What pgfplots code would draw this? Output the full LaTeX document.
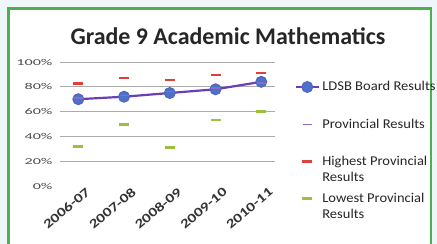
\documentclass[border=0pt]{standalone}
\usepackage{pgfplots}
\pgfplotsset{compat=1.18}
\usepackage{fontspec}
\setmainfont{Carlito}
\definecolor{bgblue}{HTML}{EEF6FA}
\definecolor{frame}{HTML}{4CB050}
\definecolor{boardline}{HTML}{6A3FB5}
\definecolor{boardmark}{HTML}{4A72C8}
\definecolor{provc}{HTML}{8A6BC0}
\definecolor{highc}{HTML}{E0403A}
\definecolor{lowc}{HTML}{9DC03A}
\newcommand{\yl}[1]{\scalebox{1.8}[1]{#1}}
\newcommand{\xl}[1]{\scalebox{1.3}[1]{#1}}
\newcommand{\lgx}[1]{\scalebox{1.08}[1]{#1}}
\newcommand{\twol}[2]{\rlap{\smash{\raisebox{-16bp}{\lgx{#2}}}}\lgx{#1}}
\begin{document}
\begin{tikzpicture}
\useasboundingbox (0bp,0bp) rectangle (437bp,244bp);
\fill[bgblue] (0bp,0bp) rectangle (437bp,244bp);
\fill[white] (8.5bp,0bp) rectangle (431bp,235.5bp);
\draw[frame,line width=2.5bp] (8.5bp,0bp) -- (8.5bp,235.5bp) -- (431bp,235.5bp) -- (431bp,0bp);
\node[font=\bfseries\fontsize{24}{28}\selectfont, text=black!85] at (228bp,208bp) {Grade 9 Academic Mathematics};
\begin{axis}[
  at={(60bp,58bp)}, anchor=south west,
  scale only axis, width=215bp, height=124bp,
  xmin=-0.4, xmax=4.3, ymin=0, ymax=100,
  axis line style={draw=none},
  ytick={20,40,60,80,100},
  yticklabels={\yl{20\%},\yl{40\%},\yl{60\%},\yl{80\%},\yl{100\%}},
  extra y ticks={0}, extra y tick labels={\yl{0\%}},
  extra y tick style={grid=none},
  xtick={0,1,2,3,4},
  xticklabels={\xl{2006-07},\xl{2007-08},\xl{2008-09},\xl{2009-10},\xl{2010-11}},
  x tick label style={rotate=40, anchor=north east, font=\bfseries\fontsize{13}{15}\selectfont, text=black!80, inner sep=1pt, xshift=6bp, yshift=-4bp},
  y tick label style={font=\fontsize{9}{10}\selectfont, text=black!70, xshift=-4bp},
  major tick length=0pt,
  ymajorgrids, grid style={gray!65, line width=0.7pt},
  legend style={draw=none, fill=none,
    font=\fontsize{13.5}{16}\selectfont, row sep=22.5pt, text=black!85,
    at={(1.079,0.876)}, anchor=north west},
  legend cell align=left,
  legend image code/.code={\draw[mark repeat=2,mark phase=2,#1] plot coordinates {(0bp,0bp) (11bp,0bp) (23bp,0bp)};},
]
\addplot[boardline, line width=2.2pt, mark=*, mark size=5.5pt, mark options={fill=boardmark, draw=boardmark!70!boardline, line width=1pt}]
  coordinates {(0,70) (1,72) (2,75) (3,78) (4,84)};
\addlegendentry{\lgx{LDSB Board Results}}
\addplot[only marks, mark=-, mark size=4.5pt, mark options={provc, line width=1.4pt}]
  coordinates {(0,71) (1,73) (2,76) (3,79) (4,83)};
\addlegendentry{\lgx{Provincial Results}}
\addplot[only marks, mark=-, mark size=5pt, mark options={highc, line width=2.6pt}]
  coordinates {(0,82.5) (1,87) (2,85.5) (3,89.5) (4,91)};
\addlegendentry{\twol{Highest Provincial}{Results}}
\addplot[only marks, mark=-, mark size=5pt, mark options={lowc, line width=2.4pt}]
  coordinates {(0,32) (1,49.5) (2,31) (3,53) (4,60)};
\addlegendentry{\twol{Lowest Provincial}{Results}}
\end{axis}
\end{tikzpicture}
\end{document}
